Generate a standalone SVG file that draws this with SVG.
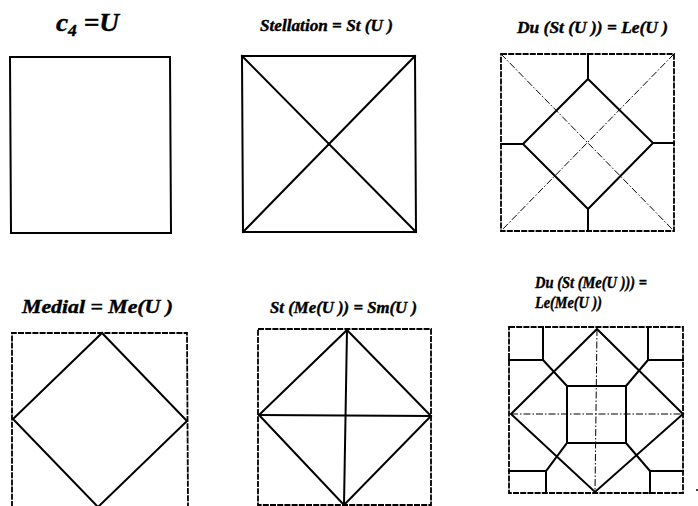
<svg xmlns="http://www.w3.org/2000/svg" width="698" height="506" viewBox="0 0 698 506">
<style>
.t{font-family:"Liberation Serif","Times New Roman",serif;font-weight:bold;font-style:italic;fill:#000;stroke:#000;stroke-width:0.4}
.s{fill:none;stroke:#000;stroke-width:2;stroke-linejoin:miter;stroke-linecap:square}
.d{fill:none;stroke:#000;stroke-width:1.8;stroke-dasharray:6 1.2}
.dd{fill:none;stroke:#000;stroke-width:1;stroke-dasharray:7 2 1.5 2}
</style>
<rect width="698" height="506" fill="#fff"/>
<g id="titles">
<text class="t" x="56" y="31" font-size="25" textLength="63" lengthAdjust="spacingAndGlyphs">c<tspan font-size="16" dy="5">4</tspan><tspan dy="-5"> =U</tspan></text>
<text class="t" x="260" y="31" font-size="17" textLength="133" lengthAdjust="spacingAndGlyphs">Stellation = St (U )</text>
<text class="t" x="517" y="33" font-size="17" textLength="151" lengthAdjust="spacingAndGlyphs">Du (St (U )) = Le(U )</text>
<text class="t" x="22" y="313" font-size="18" textLength="151" lengthAdjust="spacingAndGlyphs">Medial = Me(U )</text>
<text class="t" x="270" y="313" font-size="17" textLength="147" lengthAdjust="spacingAndGlyphs">St (Me(U )) = Sm(U )</text>
<text class="t" x="535" y="288" font-size="17" textLength="112" lengthAdjust="spacingAndGlyphs">Du (St (Me(U ))) =</text>
<text class="t" x="535" y="308" font-size="17" textLength="67" lengthAdjust="spacingAndGlyphs">Le(Me(U ))</text>
</g>
<g id="panel-U">
<polygon class="s" points="10,57 170,57 171,233 11,233"/>
</g>
<g id="panel-St">
<polygon class="s" points="242,56 415,56 416,232 243,232"/>
<line class="s" x1="242" y1="56" x2="416" y2="232"/>
<line class="s" x1="415" y1="56" x2="243" y2="232"/>
</g>
<g id="panel-Le">
<rect class="d" x="501" y="54" width="173" height="177"/>
<line class="dd" x1="501" y1="54" x2="674" y2="231"/>
<line class="dd" x1="674" y1="54" x2="501" y2="231"/>
<polygon class="s" points="588,79 653,143 588,209 523,144"/>
<line class="s" x1="588" y1="54" x2="588" y2="79"/>
<line class="s" x1="588" y1="209" x2="588" y2="231"/>
<line class="s" x1="501" y1="144" x2="523" y2="144"/>
<line class="s" x1="653" y1="143" x2="674" y2="143"/>
</g>
<g id="panel-Me">
<polyline class="d" points="12,507 12,333 187,333 188,507"/>
<polyline class="s" points="98,507 13,419 102,333 187,421 98,507"/>
</g>
<g id="panel-Sm">
<rect class="d" x="258" y="329" width="173" height="176"/>
<polygon class="s" points="347,330 431,416 344,505 259,415"/>
<line class="s" x1="347" y1="330" x2="344" y2="505"/>
<line class="s" x1="259" y1="415" x2="431" y2="416"/>
</g>
<g id="panel-LeMe">
<rect class="d" x="509" y="327" width="174" height="166"/>
<line class="dd" x1="597" y1="329" x2="595" y2="492"/>
<line class="dd" x1="511" y1="414" x2="683" y2="414"/>
<polygon class="s" points="597,329 683,414 595,492 511,414"/>
<rect class="s" x="567" y="386" width="59" height="57"/>
<polyline class="s" points="543,327 543,360 509,360"/>
<polyline class="s" points="648,327 648,360 683,360"/>
<polyline class="s" points="509,471 546,471 546,493"/>
<polyline class="s" points="683,471 650,471 650,493"/>
<line class="s" x1="543" y1="360" x2="567" y2="386"/>
<line class="s" x1="648" y1="360" x2="626" y2="386"/>
<line class="s" x1="546" y1="471" x2="567" y2="443"/>
<line class="s" x1="650" y1="471" x2="626" y2="443"/>
</g>
<circle cx="697" cy="490" r="1" fill="#000"/>
</svg>
